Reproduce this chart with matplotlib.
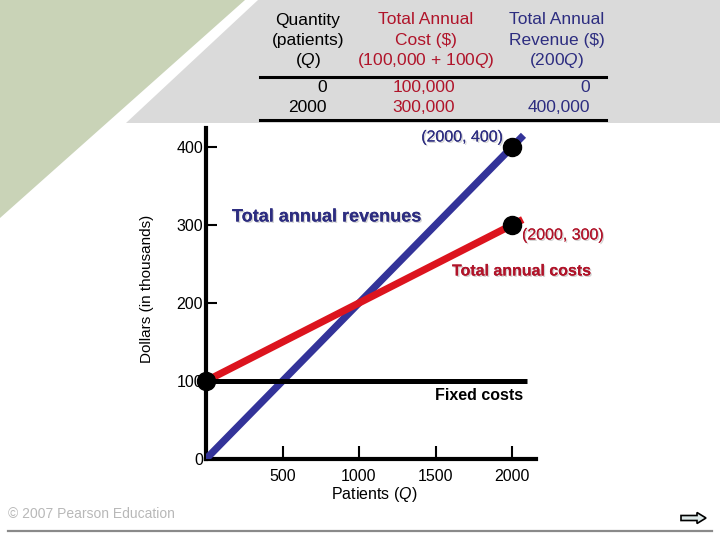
import matplotlib
matplotlib.use("Agg")
import matplotlib.pyplot as plt
import matplotlib.patheffects as pe
from matplotlib.patches import Polygon, FancyArrow

plt.rcParams['font.family'] = ['Liberation Sans', 'DejaVu Sans']
plt.rcParams['mathtext.fontset'] = 'custom'
plt.rcParams['mathtext.rm'] = 'Liberation Sans'
plt.rcParams['mathtext.it'] = 'Liberation Sans:italic'

# data (thousands of dollars vs patients)
patients = [0, 2000]
cost = [100, 300]
revenue = [0, 400]
# drawn segments run a bit past the last point, as in the original
rev_line_q = [0, 2075]
rev_line = [0, 415]
cost_line_q = [0, 2070]
cost_line = [100, 307]
fixed_q = [0, 2100]
fixed = [100, 100]
x_ticks = [500, 1000, 1500, 2000]
y_ticks = [0, 100, 200, 300, 400]

# table values in dollars
tbl_q = [0, 2000]
tbl_cost = [100000, 300000]
tbl_rev = [0, 400000]

RED = '#dc141e'
RED_TXT = '#b0142a'
BLUE = '#333399'
BLUE_TXT = '#2d2d80'

fig = plt.figure(figsize=(7.2, 5.4), dpi=100)

# background in pixel coords
bg = fig.add_axes([0, 0, 1, 1])
bg.set_xlim(0, 720)
bg.set_ylim(540, 0)
bg.axis('off')
bg.add_patch(Polygon([(0, 0), (245, 0), (0, 218)], closed=True, fc='#c9d3b7', ec='none'))
bg.add_patch(Polygon([(258, 0), (720, 0), (720, 123), (126, 123)], closed=True, fc='#dadada', ec='none'))
bg.plot([8, 712], [531, 531], color='#8a8a8a', lw=1.6)
bg.add_patch(FancyArrow(681, 518, 16, 0, width=5, head_width=11, head_length=9,
                        fc='#dde8e8', ec='black', lw=1.2, length_includes_head=False))
bg.text(8, 514, '\u00a9 2007 Pearson Education', fontsize=10, color='#b8b8b8', va='center')

# table
fs = 12.5
hdr_y = [20, 40, 60]
for txt, y in zip(['Quantity', '(patients)', '($\\it{Q}$)'], hdr_y):
    bg.text(308, y, txt, fontsize=fs, ha='center', va='center', color='black')
for txt, y in zip(['Total Annual', 'Cost ($)', '(100,000 + 100$\\it{Q}$)'], hdr_y):
    bg.text(426, y, txt, fontsize=fs, ha='center', va='center', color=RED_TXT)
for txt, y in zip(['Total Annual', 'Revenue ($)', '(200$\\it{Q}$)'], hdr_y):
    bg.text(557, y, txt, fontsize=fs, ha='center', va='center', color=BLUE_TXT)
bg.plot([260, 606], [77, 77], color='black', lw=2.2)
bg.plot([260, 606], [120, 120], color='black', lw=2.2)
for i, y in enumerate([88, 107]):
    bg.text(327, y, str(tbl_q[i]), fontsize=fs, ha='right', va='center', color='black')
    bg.text(424, y, f'{tbl_cost[i]:,}', fontsize=fs, ha='center', va='center', color=RED_TXT)
    bg.text(590, y, f'{tbl_rev[i]:,}', fontsize=fs, ha='right', va='center', color=BLUE_TXT)

# main chart
ax = fig.add_axes([206 / 720, 81 / 540, 336.6 / 720, 335.4 / 540])
ax.patch.set_alpha(0)
ax.set_xlim(0, 2200)
ax.set_ylim(0, 430)
for s in ['top', 'right']:
    ax.spines[s].set_visible(False)
for s in ['left', 'bottom']:
    ax.spines[s].set_linewidth(3)
ax.spines['left'].set_bounds(0, 424)
ax.spines['bottom'].set_bounds(0, 2160)

ax.set_xticks(x_ticks)
ax.set_xticklabels([str(t) for t in x_ticks])
ax.set_yticks(y_ticks)
ax.set_yticklabels([str(t) for t in y_ticks])
ax.tick_params(axis='x', direction='in', length=9.5, width=1.5, pad=7, labelsize=11.5)
ax.tick_params(axis='y', direction='in', length=8, width=1.5, pad=2, labelsize=11.5)

ax.plot(rev_line_q, rev_line, color=BLUE, lw=5.2, solid_capstyle='butt', zorder=3)
ax.plot(cost_line_q, cost_line, color=RED, lw=5.2, solid_capstyle='butt', zorder=4)
ax.plot(fixed_q, fixed, color='black', lw=3.6, solid_capstyle='butt', zorder=5)
ax.plot([patients[0]], [cost[0]], 'o', color='black', ms=13, zorder=6, clip_on=False)
ax.plot([patients[1]], [revenue[1]], 'o', color='black', ms=13, zorder=6)
ax.plot([patients[1]], [cost[1]], 'o', color='black', ms=13, zorder=6)

ax.set_xlabel('Patients ($\\it{Q}$)', fontsize=11.5, labelpad=1)
fig.text(147 / 720, 1 - 289 / 540, 'Dollars (in thousands)', rotation=90,
         fontsize=11, ha='center', va='center')

shadow = [pe.withSimplePatchShadow(offset=(1, -1), shadow_rgbFace='#c8c8c8', alpha=0.8), pe.Normal()]
bg.text(232, 217, 'Total annual revenues', fontsize=13, fontweight='bold', color=BLUE_TXT,
        ha='left', va='center', path_effects=shadow)
bg.text(452, 271, 'Total annual costs', fontsize=11.5, fontweight='bold', color=RED_TXT,
        ha='left', va='center', path_effects=shadow)
bg.text(435, 396, 'Fixed costs', fontsize=11.5, fontweight='bold', color='black',
        ha='left', va='center')
bg.text(503, 137, f'({patients[1]}, {revenue[1]})', fontsize=11.5, color=BLUE_TXT,
        ha='right', va='center', path_effects=shadow)
bg.text(522, 235, f'({patients[1]}, {cost[1]})', fontsize=11.5, color=RED_TXT,
        ha='left', va='center', path_effects=shadow)

fig.savefig('out.png', dpi=100)
